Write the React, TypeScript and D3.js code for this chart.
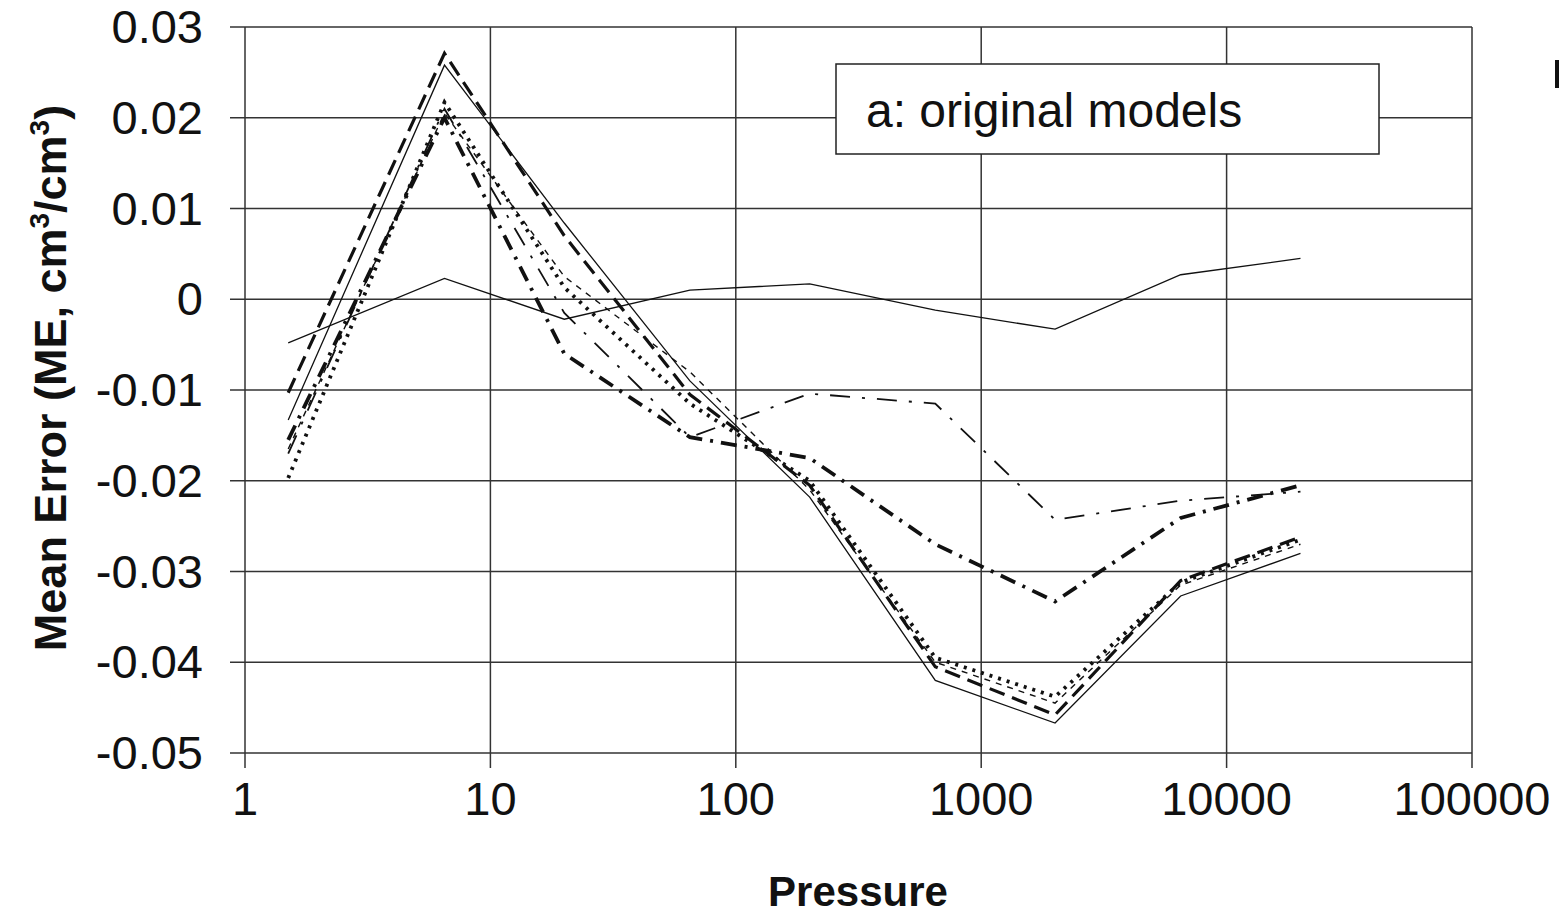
import React from "react";
import * as d3 from "d3";

const pressures = [1.5, 6.5, 20, 65, 200, 650, 2000, 6500, 20000];
const seriesA = [-0.0048, 0.0023, -0.0022, 0.001, 0.0017, -0.0012, -0.0033, 0.0027, 0.0045];
const seriesB = [-0.0133, 0.0258, 0.0084, -0.009, -0.0218, -0.042, -0.0467, -0.0327, -0.028];
const seriesC = [-0.0103, 0.0271, 0.007, -0.0105, -0.0205, -0.0405, -0.0458, -0.031, -0.0262];
const seriesD = [-0.0197, 0.0217, 0.0013, -0.0115, -0.02, -0.0395, -0.0438, -0.0312, -0.0265];
const seriesE = [-0.0155, 0.02, -0.006, -0.0152, -0.0175, -0.027, -0.0333, -0.0241, -0.0205];
const seriesF = [-0.017, 0.021, -0.0015, -0.0152, -0.0104, -0.0115, -0.0243, -0.0222, -0.0212];
const seriesG = [-0.0165, 0.0205, 0.0025, -0.008, -0.021, -0.04, -0.0445, -0.0315, -0.027];

const xTicks = [1, 10, 100, 1000, 10000, 100000];
const xTickLabels = ["1", "10", "100", "1000", "10000", "100000"];
const yTicks = [0.03, 0.02, 0.01, 0, -0.01, -0.02, -0.03, -0.04, -0.05];
const yTickLabels = ["0.03", "0.02", "0.01", "0", "-0.01", "-0.02", "-0.03", "-0.04", "-0.05"];
const legendLabel = "a: original models";

const styles = [
  { data: seriesA, w: 1.3, dash: "" },
  { data: seriesB, w: 1.3, dash: "" },
  { data: seriesG, w: 1.4, dash: "6,6" },
  { data: seriesF, w: 1.8, dash: "20,12,3,12" },
  { data: seriesC, w: 3.2, dash: "16,8" },
  { data: seriesD, w: 3.8, dash: "3,6" },
  { data: seriesE, w: 3.8, dash: "16,8,3,8" },
];

export default function App() {
  const x = d3.scaleLog().domain([1, 100000]).range([245, 1472]);
  const y = d3.scaleLinear().domain([-0.05, 0.03]).range([753, 27]);
  const line = d3
    .line<[number, number]>()
    .x((d) => x(d[0]))
    .y((d) => y(d[1]));
  const font = "'Liberation Sans', Arial, sans-serif";
  return (
    <svg
      width={1559}
      height={917}
      style={{ position: "absolute", left: 0, top: 0, background: "#fff" }}
      fontFamily={font}
    >
      <rect x={0} y={0} width={1559} height={917} fill="#fff" />
      {yTicks.map((t) => (
        <line key={"gy" + t} x1={230} x2={1472} y1={y(t)} y2={y(t)} stroke="#333" strokeWidth={1.5} />
      ))}
      {xTicks.map((t) => (
        <line key={"gx" + t} x1={x(t)} x2={x(t)} y1={27} y2={768} stroke="#333" strokeWidth={1.5} />
      ))}
      {styles.map((s, i) => (
        <path
          key={i}
          d={line(pressures.map((p, j) => [p, s.data[j]] as [number, number])) || ""}
          fill="none"
          stroke="#111"
          strokeWidth={s.w}
          strokeDasharray={s.dash}
        />
      ))}
      <rect x={836} y={64} width={543} height={90} fill="#fff" stroke="#222" strokeWidth={1.5} />
      <text x={866} y={127} fontSize={48} fill="#111">
        {legendLabel}
      </text>
      {yTicks.map((t, i) => (
        <text key={"yl" + t} x={203} y={y(t) + 16} fontSize={47} textAnchor="end" fill="#111">
          {yTickLabels[i]}
        </text>
      ))}
      {xTicks.map((t, i) => (
        <text key={"xl" + t} x={x(t)} y={815} fontSize={47} textAnchor="middle" fill="#111">
          {xTickLabels[i]}
        </text>
      ))}
      <text x={858} y={906} fontSize={42} fontWeight="bold" textAnchor="middle" fill="#111">
        Pressure
      </text>
      <text
        transform="translate(66,378) rotate(-90)"
        fontSize={45}
        fontWeight="bold"
        textAnchor="middle"
        fill="#111"
      >
        Mean Error (ME, cm
        <tspan dy={-17} fontSize={28}>3</tspan>
        <tspan dy={17}>/cm</tspan>
        <tspan dy={-17} fontSize={28}>3</tspan>
        <tspan dy={17}>)</tspan>
      </text>
      <rect x={1555} y={60} width={4} height={28} fill="#111" />
    </svg>
  );
}
